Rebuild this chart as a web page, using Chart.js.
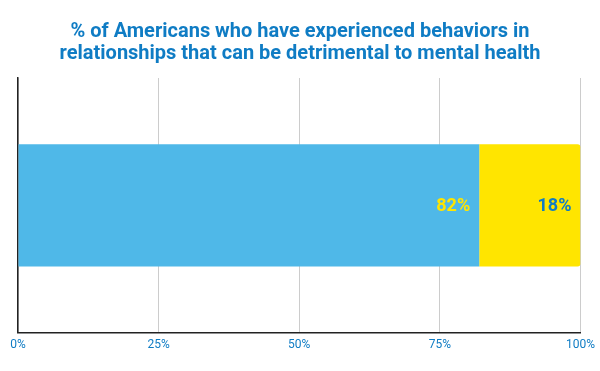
<!DOCTYPE html>
<html>
<head>
<meta charset="utf-8">
<script src="https://cdn.jsdelivr.net/npm/chart.js@4"></script>
<style>
  html, body { margin: 0; padding: 0; background: #fff; }
  #wrap { width: 600px; height: 371px; }
</style>
</head>
<body>
<div id="wrap"><canvas id="chart"></canvas></div>
<script>
// ── Data ─────────────────────────────────────────────
const categories  = [''];
const experienced = [82];
const notExp      = [18];
const tickValues  = [0, 25, 50, 75, 100];

const titleLines = [
    '% of Americans who have experienced behaviors in',
    'relationships that can be detrimental to mental health'
];

const BLUE   = '#4fb8e8';
const YELLOW = '#ffe500';
const DARK   = '#0f7cc4';

// label di ujung kanan tiap segmen
const barLabels = {
    id: 'barLabels',
    afterDatasetsDraw(chart) {
        const ctx = chart.ctx;
        ctx.save();
        ctx.font = 'bold 18px Roboto';
        ctx.textAlign = 'right';
        ctx.textBaseline = 'middle';
        chart.data.datasets.forEach((ds, i) => {
            chart.getDatasetMeta(i).data.forEach((bar, j) => {
                ctx.fillStyle = ds.labelColor;
                ctx.fillText(ds.data[j] + '%', bar.x - 9, bar.y + 1);
            });
        });
        ctx.restore();
    }
};

new Chart(document.getElementById('chart'), {
    type: 'bar',
    data: {
        labels: categories,
        datasets: [
            {
                data: experienced,
                backgroundColor: BLUE,
                labelColor: YELLOW,
                barPercentage: 0.48,
                categoryPercentage: 1,
            },
            {
                data: notExp,
                backgroundColor: YELLOW,
                labelColor: DARK,
                borderRadius: { topRight: 3, bottomRight: 3 },
                borderSkipped: false,
                barPercentage: 0.48,
                categoryPercentage: 1,
            }
        ]
    },
    plugins: [barLabels],
    options: {
        indexAxis: 'y',
        responsive: true,
        maintainAspectRatio: false,
        animation: false,
        layout: { padding: { left: 18, right: 18, bottom: 14, top: 0 } },
        plugins: {
            legend: { display: false },
            tooltip: { enabled: false },
            title: {
                display: true,
                text: titleLines,
                color: DARK,
                font: { family: 'Roboto', size: 20, weight: 'bold', lineHeight: 1.1 },
                padding: { top: 21, bottom: 13 }
            }
        },
        scales: {
            x: {
                stacked: true,
                min: 0, max: 100,
                afterBuildTicks: (axis) => { axis.ticks = tickValues.map(v => ({ value: v })); },
                ticks: {
                    color: DARK,
                    font: { family: 'Roboto', size: 12 },
                    padding: 5,
                    callback: (v) => v + '%'
                },
                grid: { color: '#cccccc', drawTicks: false },
                border: { color: '#222', width: 1.5 }
            },
            y: {
                stacked: true,
                ticks: { display: false },
                grid: { display: false, drawTicks: false },
                border: { display: true, color: '#222', width: 1.5 }
            }
        }
    }
});
</script>
</body>
</html>
